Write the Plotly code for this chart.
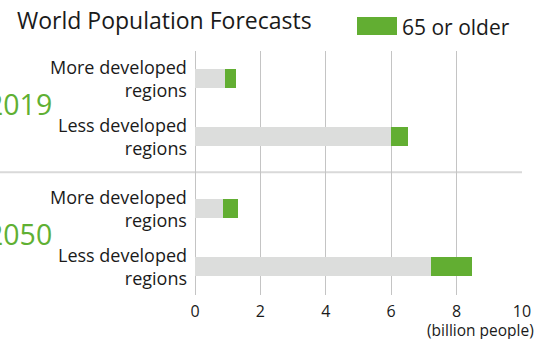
import plotly.graph_objects as go

# Population by age band (billion people)
years = ["2019", "2050"]
regions = ["More developed<br>regions", "Less developed<br>regions"]
under_65 = [0.92, 6.00, 0.86, 7.23]
age_65_plus = [0.33, 0.51, 0.46, 1.23]
x_ticks = [0, 2, 4, 6, 8, 10]

GRAY = "#dcdddc"
GREEN = "#62ae32"
FONT = "Open Sans"
TEXT = "#1a1a1a"

W, H = 539, 339
L, R, T, B = 195, 17, 51, 44

# Row positions: two rows per year, with a wider gap between year groups
group_gap = 0.241
rows = []
for g in range(len(years)):
    for r in range(len(regions)):
        rows.append(g * (len(regions) + group_gap) + r)

fig = go.Figure()
fig.add_trace(go.Bar(
    y=rows, x=under_65, orientation="h", width=0.322,
    marker=dict(color=GRAY, line=dict(width=0)), name="Under 65",
    showlegend=False, hoverinfo="x",
))
fig.add_trace(go.Bar(
    y=rows, x=age_65_plus, orientation="h", width=0.322,
    marker=dict(color=GREEN, line=dict(width=0)), name="65 or older",
    showlegend=False, hoverinfo="x",
))

plot_w = W - L - R
plot_h = H - T - B


def px_x(px):
    return (px - L) / plot_w


def px_y(py):
    return (H - B - py) / plot_h


annotations = []
# Region labels, right-aligned next to the axis
for i, y in enumerate(rows):
    annotations.append(dict(
        x=0, y=y, xref="x", yref="y", xanchor="right", yanchor="middle",
        xshift=-6, text=regions[i % len(regions)], showarrow=False,
        align="right", font=dict(family=FONT, size=18, color=TEXT),
    ))
# Year labels in green
for g, yr in enumerate(years):
    mid = (rows[g * 2] + rows[g * 2 + 1]) / 2
    annotations.append(dict(
        x=px_x(53.5), y=mid, xref="paper", yref="y", xanchor="right",
        yanchor="middle", yshift=3, text=yr, showarrow=False,
        font=dict(family=FONT, size=28.5, color="#5fb033"),
    ))
# Axis unit
annotations.append(dict(
    x=px_x(535.5), y=px_y(330), xref="paper", yref="paper",
    xanchor="right", yanchor="middle", text="(billion people)",
    showarrow=False, font=dict(family=FONT, size=15.5, color=TEXT),
))
# Legend text
annotations.append(dict(
    x=px_x(400), y=px_y(27), xref="paper", yref="paper",
    xanchor="left", yanchor="middle", text="65 or older",
    showarrow=False, font=dict(family=FONT, size=21, color=TEXT),
))

sep_y = (rows[1] + rows[2]) / 2
shapes = [
    # Divider between year groups
    dict(type="line", xref="paper", yref="y", x0=px_x(0), x1=1,
         y0=sep_y, y1=sep_y, line=dict(color="#d9d9d9", width=2), layer="below"),
    # Legend swatch
    dict(type="rect", xref="paper", yref="paper",
         x0=px_x(357), x1=px_x(397), y0=px_y(35), y1=px_y(17),
         fillcolor=GREEN, line=dict(width=0)),
]

fig.update_layout(
    width=W, height=H, autosize=False,
    margin=dict(l=L, r=R, t=T, b=B, pad=0, autoexpand=False),
    paper_bgcolor="white", plot_bgcolor="white",
    barmode="stack", bargap=0,
    showlegend=False,
    title=dict(text="World Population Forecasts", x=17 / W, xref="container",
               xanchor="left", y=1 - 21 / H, yref="container", yanchor="middle",
               font=dict(family=FONT, size=23, color=TEXT)),
    xaxis=dict(range=[0, 10], tickvals=x_ticks, showgrid=True, automargin=False,
               gridcolor="#c4c4c4", gridwidth=1.3, zeroline=True,
               zerolinecolor="#c4c4c4", zerolinewidth=1.3,
               ticks="", showline=False, ticklabelstandoff=5,
               tickfont=dict(family=FONT, size=16, color=TEXT)),
    yaxis=dict(range=[rows[-1] + 0.495, rows[0] - 0.471], showgrid=False,
               automargin=False, zeroline=False, showticklabels=False,
               showline=False),
    annotations=annotations,
    shapes=shapes,
)

fig.write_html("out.html", config={"responsive": False})
